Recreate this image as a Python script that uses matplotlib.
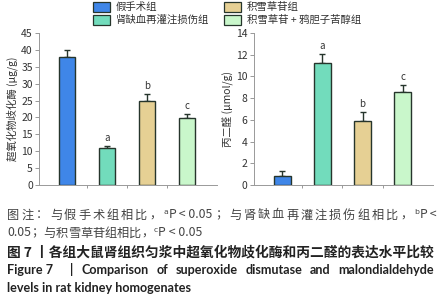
import numpy as np
import matplotlib.pyplot as plt
from matplotlib.patches import Rectangle

plt.rcParams['font.family'] = ['Noto Sans CJK SC', 'DejaVu Sans']

groups = ['假手术组', '肾缺血再灌注损伤组', '积雪草苷组', '积雪草苷 + 鸦胆子苦醇组']
colors = ['#3f86e8', '#72dcbc', '#e6d094', '#c9f7cb']
sod = [38.0, 10.9, 25.0, 19.9]
sod_err = [1.9, 0.6, 2.0, 1.0]
mda = [0.8, 11.2, 5.9, 8.6]
mda_err = [0.5, 0.9, 0.8, 0.6]
sod_marks = ['', 'a', 'b', 'c']
mda_marks = ['', 'a', 'b', 'c']

fig = plt.figure(figsize=(4.47, 3.0), dpi=100)
W, H = 447.0, 300.0
renderer = fig.canvas.get_renderer()

def axes_px(x0, y0, x1, y1):
    return fig.add_axes([x0 / W, 1 - y1 / H, (x1 - x0) / W, (y1 - y0) / H])

def draw(ax, vals, errs, marks, ymax, step, ylabel):
    x = np.arange(len(vals))
    ax.bar(x, vals, width=0.42, color=colors, edgecolor='#26352c', linewidth=1.0, zorder=2)
    ax.errorbar(x, vals, yerr=[np.zeros(len(errs)), errs], fmt='none', ecolor='#26352c',
                elinewidth=1.0, capsize=2.5, capthick=1.0, zorder=1)
    for xi, v, e, m in zip(x, vals, errs, marks):
        if m:
            ax.text(xi, v + e + ymax * 0.02, m, ha='center', va='bottom', fontsize=7,
                    color='#333333')
    ax.set_xlim(-0.7, len(vals) - 0.25)
    ax.set_ylim(0, ymax)
    ax.set_yticks(np.arange(0, ymax + 0.01, step))
    ax.set_xticks(x[:-1] + 0.5)
    ax.set_xticklabels([])
    ax.tick_params(axis='both', labelsize=7.5, length=3, width=0.6, color='#888888',
                   labelcolor='#333333', pad=1.5)
    ax.tick_params(axis='x', length=2)
    for s in ['top', 'right']:
        ax.spines[s].set_visible(False)
    for s in ['left', 'bottom']:
        ax.spines[s].set_color('#999999')
        ax.spines[s].set_linewidth(0.7)
    ax.set_ylabel(ylabel, fontsize=7.5, color='#333333', labelpad=2)

ax1 = axes_px(39, 33, 217, 185)
draw(ax1, sod, sod_err, sod_marks, 45, 5, '超氧化物歧化酶 (μg/g)')
ax2 = axes_px(254, 33, 433, 185)
draw(ax2, mda, mda_err, mda_marks, 14, 2, '丙二醛 (μmol/g)')

# legend
leg_pos = [(93, 7), (93, 20), (224, 7), (224, 20)]
for (px, py), c, g in zip(leg_pos, colors, groups):
    fig.patches.append(Rectangle((px / W, 1 - (py + 4.5) / H), 17 / W, 9 / H,
                                 transform=fig.transFigure, facecolor=c,
                                 edgecolor='#26352c', linewidth=0.9))
    fig.text((px + 23) / W, 1 - py / H, g, fontsize=7.5, va='center', color='#333333')

# caption: tokens are (text, italic, glued-to-previous); spread to x1 if given
def line(tokens, y, x0=7, x1=None, **kw):
    texts = []
    for tok, it, glue in tokens:
        texts.append(fig.text(0, 1 - y / H, tok, va='center',
                              style='italic' if it else 'normal', **kw))
    widths = [t.get_window_extent(renderer).width for t in texts]
    ngaps = sum(1 for tok in tokens[1:] if not tok[2])
    gap = 0.0
    if x1 is not None and ngaps:
        gap = (x1 - x0 - sum(widths)) / ngaps
    x = x0
    for i, (t, w) in enumerate(zip(texts, widths)):
        if i > 0 and not tokens[i][2]:
            x += gap
        t.set_x(x / W)
        x += w

def cn_tokens(s):
    return [(ch, False, False) for ch in s]

def p_val(sup, tail):
    return [(sup, False, False), ('P', True, True), (tail, False, True)]

cap = dict(fontsize=8.8, color='#444444')
line(cn_tokens('图注：与假手术组相比，') + p_val('ᵃ', ' < 0.05') + cn_tokens('；与肾缺血再灌注损伤组相比，')
     + p_val('ᵇ', ' <'), 215, x1=437, **cap)
line([('0.05', False, False)] + cn_tokens('；与积雪草苷组相比，') + p_val('ᶜ', ' < 0.05'), 233, **cap)
line([('图 7 丨各组大鼠肾组织匀浆中超氧化物歧化酶和丙二醛的表达水平比较', False, False)], 252,
     fontsize=9.9, color='#222222', fontweight='bold')

eng = dict(fontsize=9.1, color='#222222', fontweight='bold', family=['Lato', 'DejaVu Sans'])
line([('Figure 7', False, False)], 270, **eng)
line([('|', False, False)], 270, x0=70, **eng)
line([(w, False, False) for w in 'Comparison of superoxide dismutase and malondialdehyde'.split()],
     270, x0=82, x1=434, **eng)
line([('levels in rat kidney homogenates', False, False)], 288, **eng)

fig.savefig('out.png', dpi=100)
